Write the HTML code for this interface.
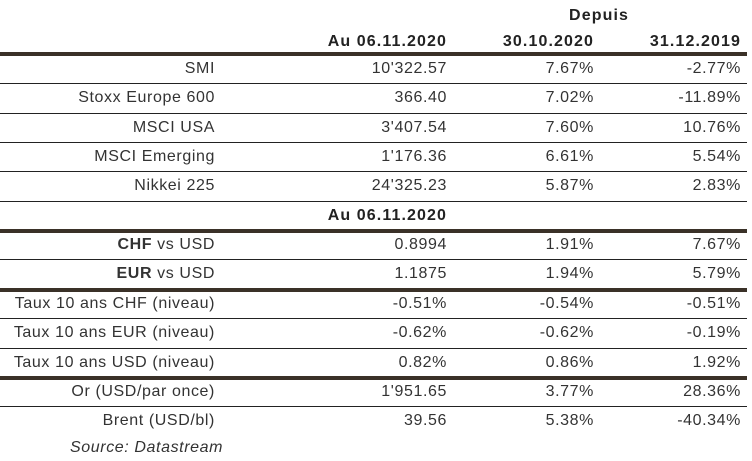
<!DOCTYPE html>
<html><head><meta charset="utf-8"><style>
body{margin:0;width:752px;height:461px;background:#fff;position:relative;overflow:hidden;font-family:"Liberation Sans",sans-serif;color:#333;}
.t{position:absolute;font-size:16px;line-height:18px;white-space:nowrap;letter-spacing:0.6px;}
.r{text-align:right;}
.b{font-weight:bold;color:#222;letter-spacing:1.1px;}
.ln{position:absolute;left:0;width:747px;background:#222;height:1px;}
.th{position:absolute;left:0;width:747px;background:#3a3128;height:4px;}
</style></head><body>
<div id="tbl"></div>
<script>
const labels=["SMI","Stoxx Europe 600","MSCI USA","MSCI Emerging","Nikkei 225","","<b>CHF</b> vs USD","<b>EUR</b> vs USD","Taux 10 ans CHF (niveau)","Taux 10 ans EUR (niveau)","Taux 10 ans USD (niveau)","Or (USD/par once)","Brent (USD/bl)"];
const levels=["10'322.57","366.40","3'407.54","1'176.36","24'325.23","","0.8994","1.1875","-0.51%","-0.62%","0.82%","1'951.65","39.56"];
const since1030=["7.67%","7.02%","7.60%","6.61%","5.87%","","1.91%","1.94%","-0.54%","-0.62%","0.86%","3.77%","5.38%"];
const since1231=["-2.77%","-11.89%","10.76%","5.54%","2.83%","","7.67%","5.79%","-0.51%","-0.19%","1.92%","28.36%","-40.34%"];
const thickAfter=[5,7,10];
const tbl=document.getElementById('tbl');
function txt(s,right,top,cls,name){
  const d=document.createElement('div');
  d.className='t r '+(cls||'');
  d.style.right=(752-right)+'px';d.style.top=top+'px';
  d.innerHTML=s;
  
  
  tbl.appendChild(d);
}
txt('Depuis',629,7,'b','depuis-header');
txt('Au 06.11.2020',447,33,'b','header-level-date');
txt('30.10.2020',594,33,'b','header-since-oct');
txt('31.12.2019',741,33,'b','header-since-dec');
function line(y,thick,name){
  const d=document.createElement('div');
  d.className=thick?'th':'ln';d.style.top=y+'px';
  
  
  tbl.appendChild(d);
}
line(52,true,'header-rule');
const y0=54,h=29.35;
labels.forEach((l,i)=>{
  const top=y0+i*h+6;
  if(i===5){txt('Au 06.11.2020',447,top,'b','section-date-header');}
  else{
    txt(l,215,top,'','row-label');
    txt(levels[i],447,top,'','row-level');
    txt(since1030[i],594,top,'','row-since-oct');
    txt(since1231[i],741,top,'','row-since-dec');
  }
  if(i<labels.length-1){
    const ly=Math.round(y0+(i+1)*h);
    if(thickAfter.includes(i)) line(ly-1,true,'section-rule'); else line(ly,false,'row-rule');
  }
});
const s=document.createElement('div');
s.className='t';s.style.left='70px';s.style.top='439px';s.style.fontStyle='italic';
s.textContent='Source: Datastream';


tbl.appendChild(s);
</script>
</body></html>
